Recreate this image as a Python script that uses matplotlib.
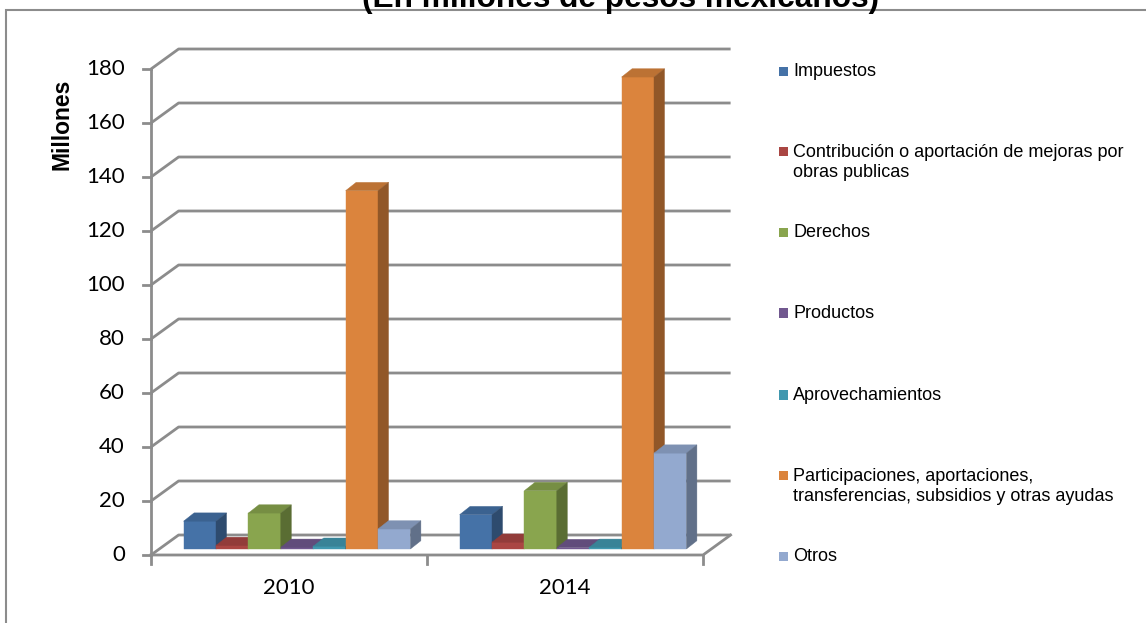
import numpy as np
import matplotlib.pyplot as plt
from matplotlib.patches import Polygon, Rectangle
from matplotlib.colors import to_rgb

# datos (millones de pesos)
years = ['2010', '2014']
series = ['Impuestos',
          'Contribución o aportación de mejoras por\nobras publicas',
          'Derechos',
          'Productos',
          'Aprovechamientos',
          'Participaciones, aportaciones,\ntransferencias, subsidios y otras ayudas',
          'Otros']
impuestos = [10.3, 12.7]
contribucion = [1.3, 2.5]
derechos = [13.3, 21.6]
productos = [0.6, 0.5]
aprovechamientos = [1.0, 0.6]
participaciones = [132.7, 174.8]
otros = [7.4, 35.5]
colors = ['#4572A7', '#AA4643', '#89A54E', '#71588F', '#4198AF', '#DB843D', '#93A9CF']
yticks = np.arange(0, 181, 20)

values = [impuestos, contribucion, derechos, productos, aprovechamientos,
          participaciones, otros]

W, H = 1146, 623
fig = plt.figure(figsize=(W / 100, H / 100), dpi=100)

def fx(x):
    return x / W

def fy(y):
    return 1 - y / H

def shade(c, f):
    r, g, b = to_rgb(c)
    return (r * f, g * f, b * f)

# plano frontal del grafico 3D
x0, x1, y0, y1 = 151, 703, 555, 69
ax = fig.add_axes([fx(x0), fy(y0), fx(x1) - fx(x0), fy(y1) - fy(y0)])
ax.set_xlim(0, 2)
ax.set_ylim(0, 180)
ax.axis('off')

sx = 2 / (x1 - x0)
sy = 180 / (y0 - y1)

# profundidad de paredes y barras
dxw, dyw = 27.6 * sx, 20 * sy
dxb, dyb = 8 * sx, 6 * sy
dxd, dyd = 10.5 * sx, 8.3 * sy
grid = '#8c8c8c'

# paredes, rejilla y ejes
for v in yticks:
    ax.plot([0, dxw, 2 + dxw], [v, v + dyw, v + dyw], color=grid, lw=2,
            clip_on=False, zorder=1, solid_capstyle='butt')
    ax.plot([-8 * sx, 0], [v, v], color=grid, lw=2, clip_on=False, zorder=1)
    ax.text(-26 * sx, v, str(v), ha='right', va='center', fontsize=16,
            family='Lato', color='black')
ax.plot([0, 2, 2 + dxw], [0, 0, dyw], color=grid, lw=2, clip_on=False, zorder=1)
ax.plot([0, 0], [0, 180], color=grid, lw=2, clip_on=False, zorder=1)
for xt in [0, 1, 2]:
    ax.plot([xt, xt], [0, -9 * sy], color=grid, lw=2, clip_on=False, zorder=1)
for j, yr in enumerate(years):
    ax.text(j + 0.5, -33 * sy, yr, ha='center', va='center', fontsize=16,
            family='Lato')

# barras 3D
n = len(series)
w = 32.4 * sx
for j in range(len(years)):
    start = j + 0.5 + dxb - n * w / 2
    for i in range(n):
        h = values[i][j]
        left = start + i * w
        c = colors[i]
        z = 5 + j * 10 + i
        ax.add_patch(Rectangle((left, dyb), w, h, facecolor=c, edgecolor=c,
                               lw=0.3, zorder=z, clip_on=False))
        ax.add_patch(Polygon([(left, dyb + h), (left + w, dyb + h),
                              (left + w + dxd, dyb + h + dyd),
                              (left + dxd, dyb + h + dyd)],
                             facecolor=shade(c, 0.86), edgecolor=shade(c, 0.86),
                             lw=0.3, zorder=z, clip_on=False))
        ax.add_patch(Polygon([(left + w, dyb), (left + w + dxd, dyb + dyd),
                              (left + w + dxd, dyb + h + dyd), (left + w, dyb + h)],
                             facecolor=shade(c, 0.66), edgecolor=shade(c, 0.66),
                             lw=0.3, zorder=z, clip_on=False))

# leyenda
leg_y = [71.7, 162.8, 232.7, 313.3, 395, 486.7, 556.7]
first_line = [71.7, 151.7, 232.7, 313.3, 395, 475.7, 556.7]
for i in range(n):
    fig.add_artist(Rectangle((fx(779), fy(first_line[i] + 4.7)), 9.5 / W, 9.5 / H,
                             transform=fig.transFigure, facecolor=colors[i],
                             edgecolor='none'))
    fig.text(fx(793), fy(leg_y[i]), series[i], ha='left', va='center',
             fontsize=13, family='Liberation Sans', linespacing=1.23)

# titulo y etiqueta del eje
fig.text(fx(621), fy(7), '(En millones de pesos mexicanos)', ha='center',
         va='baseline', fontsize=22.8, weight='bold', family='Liberation Sans')
fig.text(fx(62), fy(124.5), 'Millones', rotation=90, ha='center', va='center',
         fontsize=16.5, weight='bold', family='Liberation Sans')

# marco del grafico
fig.add_artist(Rectangle((fx(6), fy(640)), 1.0, (640 - 10) / H,
                         transform=fig.transFigure, fill=False,
                         edgecolor='#8c8c8c', lw=1.5))

plt.savefig('out.png', dpi=100)
